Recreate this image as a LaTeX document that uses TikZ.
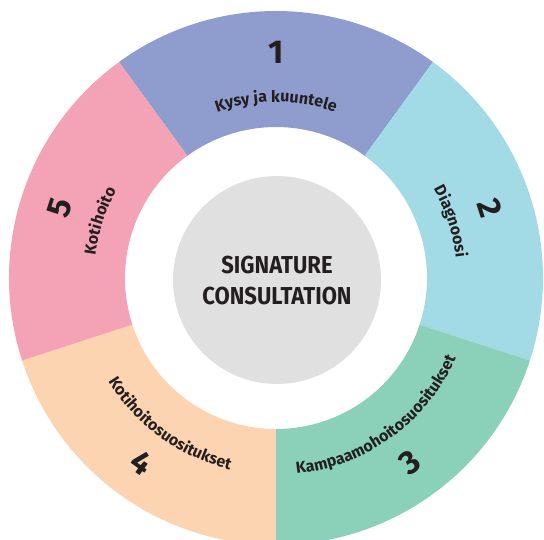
\documentclass[tikz,border=0pt]{standalone}
\usepackage{fontspec}
\setmainfont{Fira Sans}
\usetikzlibrary{decorations.text}
\definecolor{cA}{HTML}{8E9DCD}
\definecolor{cB}{HTML}{A2DAE5}
\definecolor{cC}{HTML}{8BD0B8}
\definecolor{cD}{HTML}{FDD4B1}
\definecolor{cE}{HTML}{F4A3B6}
\definecolor{coreg}{HTML}{E0E0E0}
\definecolor{txt}{HTML}{231F20}
\newcommand{\lblfont}{\fontsize{16}{18}\selectfont\bfseries}
\begin{document}
\begin{tikzpicture}[x=1pt,y=1pt,
  num/.style={font=\fontsize{33}{36}\selectfont\bfseries, text=txt, inner sep=0pt},
  seglabel/.style={decorate, decoration={text along path, text={|\lblfont|#1}, text align=center, text color=txt}},
  centertext/.style={font=\fontsize{24.5}{30.5}\selectfont\bfseries, text=txt, align=center, inner sep=0pt}]
\clip (-276,-262) rectangle (268,278);
\def\Ri{151}
\def\Ro{267}
\foreach \a/\c in {54/cA, -18/cB, -90/cC, -162/cD, 126/cE}{
  \fill[\c] (\a:\Ri) arc[start angle=\a, end angle=\a+72, radius=\Ri]
    -- (\a+72:\Ro) arc[start angle=\a+72, end angle=\a, radius=\Ro] -- cycle;
}
\node[circle, fill=coreg, minimum size=208pt, inner sep=0pt] (core) at (1,-2) {};
\node[centertext] (title) at (1,-2.5) {\scalebox{0.9}[1]{SIGNATURE}\\\scalebox{0.9}[1]{CONSULTATION}};
\node[num] (n1) at (90:226) {1};
\node[num, rotate=-72] (n2) at (18:225) {2};
\node[num, rotate=36] (n3) at (-54:228) {3};
\node[num, rotate=-36] (n4) at (-126:228) {4};
\node[num, rotate=72] (n5) at (162:227) {5};
\path[seglabel={Kysy ja kuuntele}] (126:176) arc[start angle=126, end angle=54, radius=176];
\path[seglabel={Diagnoosi}] (54:181) arc[start angle=54, end angle=-18, radius=181];
\path[seglabel={Kampaamohoitosuositukset}] (-90:197) arc[start angle=-90, end angle=-18, radius=197];
\path[seglabel={Kotihoitosuositukset}] (-162:197) arc[start angle=-162, end angle=-90, radius=197];
\path[seglabel={Kotihoito}] (198:182) arc[start angle=198, end angle=126, radius=182];
\end{tikzpicture}
\end{document}
